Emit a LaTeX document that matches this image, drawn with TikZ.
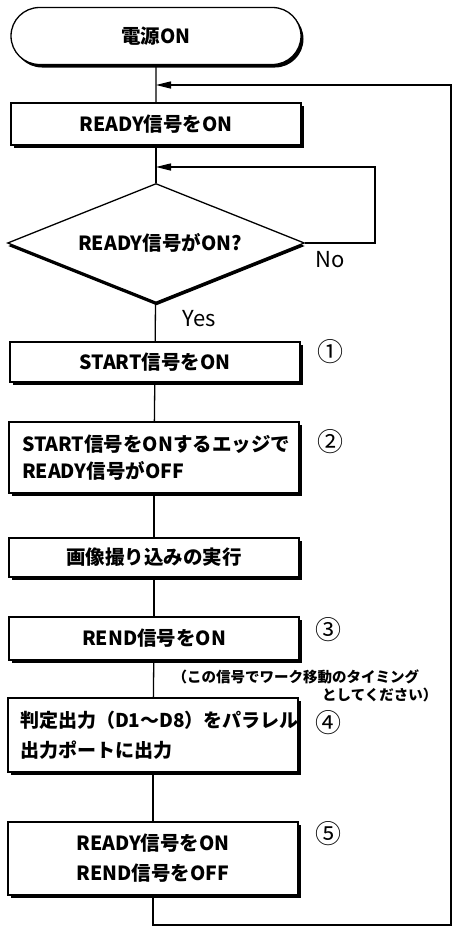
\documentclass[tikz,border=0pt]{standalone}
\usepackage{fontspec}
\setmainfont{Noto Sans CJK JP}
\usetikzlibrary{shapes.geometric,shapes.misc,arrows.meta,shadows}
\begin{document}
\begin{tikzpicture}[x=1pt,y=-1pt,line width=1.3pt,
  shad/.style={drop shadow={shadow xshift=2.5pt,shadow yshift=-3pt,fill=black,opacity=1}},
  mainfont/.style={font=\fontsize{19.5}{27}\selectfont\bfseries},
  procbox/.style={draw,fill=white,shad,minimum width=290pt,inner sep=0pt,mainfont},
  leftbox/.style={procbox,inner xsep=13pt,text width=264pt,align=left},
  twobox/.style={procbox,align=center,font=\fontsize{19.5}{30}\selectfont\bfseries},
  termbox/.style={draw,fill=white,shad,rounded rectangle,minimum width=290pt,minimum height=57pt,inner sep=0pt,mainfont},
  decbox/.style={draw,fill=white,diamond,aspect=2.5,minimum width=297pt,minimum height=119pt,inner sep=0pt,mainfont,
    drop shadow={shadow xshift=0.5pt,shadow yshift=-3pt,fill=black,opacity=1}},
  lbl/.style={font=\fontsize{22}{26}\selectfont},
  num/.style={font=\fontsize{26}{28}\selectfont},
  note/.style={font=\fontsize{14.5}{18}\selectfont\bfseries,align=left,inner sep=0pt},
  arr/.style={-{Triangle[length=15pt,width=7pt]}}
]
\useasboundingbox (0,0) rectangle (452,927);
\fill[white] (0,0) rectangle (452,927);

\node[termbox] (term) at (156,36) {電源ON};
\node[procbox,minimum height=42pt] (b1) at (156,124) {READY信号をON};
\node[decbox] (dia) at (156,243) {\hspace*{8pt}READY信号がON?};
\node[procbox,minimum height=40pt] (b2) at (155,362) {START信号をON};
\node[leftbox,minimum height=71pt,font=\fontsize{19.5}{27}\selectfont\bfseries] (b3) at (154,457.5) {START信号をONするエッジで\\READY信号がOFF};
\node[procbox,minimum height=39pt] (b4) at (154,557.5) {画像撮り込みの実行};
\node[procbox,minimum height=43pt] (b5) at (154,638.5) {REND信号をON};
\node[leftbox,minimum height=74pt,inner xsep=12pt,text width=266pt,font=\fontsize{19}{30}\selectfont\bfseries] (b6) at (153,735) {判定出力（D1〜D8）をパラレル\\出力ポートに出力};
\node[twobox,minimum height=73pt] (b7) at (153,858.5) {READY信号をON\\REND信号をOFF};

\node[lbl] (yes) at (199,319) {Yes};
\node[lbl] (no) at (330,260) {No};

\node[num] (n1) at (330,352) {①};
\node[num] (n2) at (330,442) {②};
\node[num] (n3) at (328,630) {③};
\node[num] (n4) at (328,723) {④};
\node[num] (n5) at (328,834) {⑤};

\node[note,anchor=west] (note1) at (172,677) {（この信号でワーク移動のタイミング};
\node[note,anchor=east] (note2) at (438,695) {としてください）};

\coordinate (j1) at (156,85);
\coordinate (j2) at (156,167);
\coordinate (c1) at (153,925);
\coordinate (c2) at (451,925);
\coordinate (c3) at (451,85);
\coordinate (c4) at (375,167);

\draw (term) -- (b1);
\draw (b1) -- (dia);
\draw (dia) -- (b2);
\draw (b2) -- (b3);
\draw (b3) -- (b4);
\draw (b4) -- (b5);
\draw (b5) -- (b6);
\draw (b6) -- (b7);
\draw[arr] (b7) -- (c1) -- (c2) -- (c3) -- (j1);
\draw[arr] (dia.east) -| (c4) -- (j2);
\end{tikzpicture}
\end{document}
